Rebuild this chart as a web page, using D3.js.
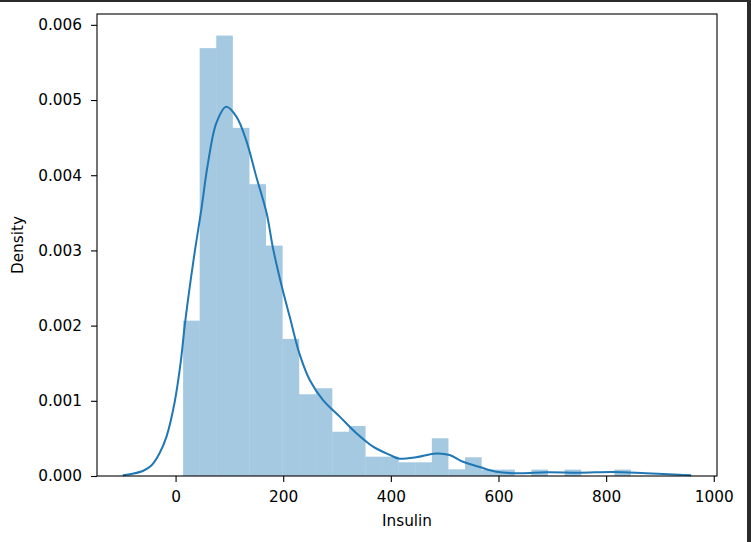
<!DOCTYPE html>
<html>
<head>
<meta charset="utf-8">
<script src="https://cdn.jsdelivr.net/npm/d3@7"></script>
<style>
  body { margin: 0; background: #fff; }
  svg { display: block; }
  text { font-family: "DejaVu Sans", sans-serif; fill: #000; }
</style>
</head>
<body>
<div id="chart"></div>
<script>
// Histogram of Insulin (density)
var binEdges = [14.0, 44.8, 75.6, 106.4, 137.3, 168.1, 198.9, 229.7, 260.5, 291.3,
  322.1, 353.0, 383.8, 414.6, 445.4, 476.2, 507.0, 537.9, 568.7, 599.5,
  630.3, 661.1, 691.9, 722.7, 753.6, 784.4, 815.2, 846.0];
var binDensity = [0.002066, 0.005690, 0.005857, 0.004630, 0.003881, 0.003064, 0.001823,
  0.001087, 0.001167, 0.000589, 0.000665, 0.000257, 0.000257, 0.000182, 0.000182,
  0.000502, 0.000089, 0.000249, 0.000085, 0.000085, 0, 0.000085, 0, 0.000085, 0, 0, 0.000085];

// KDE curve, points
var kdeX = [-98, -80, -60, -45, -30, -17, -2, 10, 17, 26, 36, 48, 60, 76, 94, 113, 131, 150,
  169, 181, 196, 212, 230, 249, 274, 305, 336, 367, 398, 416, 447, 484, 509, 534, 565,
  596, 639, 689, 751, 812, 874, 936, 958];
var kdeY = [0.00001, 0.00003, 0.00007, 0.00014, 0.00030, 0.00052, 0.00097, 0.00154, 0.00200,
  0.00250, 0.00300, 0.00355, 0.00415, 0.00470, 0.00491, 0.00478, 0.00447, 0.00398,
  0.00350, 0.00303, 0.00256, 0.00212, 0.00163, 0.00128, 0.00101, 0.00079, 0.00057,
  0.00039, 0.00028, 0.00023, 0.00025, 0.00030, 0.00028, 0.00019, 0.00012, 0.000057,
  0.000036, 0.000049, 0.000044, 0.000053, 0.000036, 0.000017, 0.00001];

var xTicks = [0, 200, 400, 600, 800, 1000];
var yTicks = [0, 0.001, 0.002, 0.003, 0.004, 0.005, 0.006];

var svgWidth = 751;
var svgHeight = 542;
var margin = { top: 14, right: 34, bottom: 66, left: 97 };
var width = svgWidth - margin.left - margin.right;
var height = svgHeight - margin.top - margin.bottom;
var fontSize = "15.3px";

var svg = d3.select("#chart")
  .append("svg")
  .attr("width", svgWidth)
  .attr("height", svgHeight);

var chartGroup = svg.append("g")
  .attr("transform", `translate(${margin.left}, ${margin.top})`);

var xScale = d3.scaleLinear()
  .domain([-146, 1006])
  .range([0, width]);

var yScale = d3.scaleLinear()
  .domain([0, 0.006144])
  .range([height, 0]);

// bars
var bins = binDensity.map(function(d, i) {
  return { x0: binEdges[i], x1: binEdges[i + 1], y: d };
});

chartGroup.selectAll("rect.bar")
  .data(bins)
  .enter()
  .append("rect")
  .attr("class", "bar")
  .attr("x", d => xScale(d.x0))
  .attr("width", d => xScale(d.x1) - xScale(d.x0))
  .attr("y", d => yScale(d.y))
  .attr("height", d => yScale(0) - yScale(d.y))
  .attr("fill", "#1f77b4")
  .attr("fill-opacity", 0.4);

// kde line
var line = d3.line()
  .x(d => xScale(d[0]))
  .y(d => yScale(d[1]))
  .curve(d3.curveCatmullRom);

chartGroup.append("path")
  .datum(kdeX.map((x, i) => [x, kdeY[i]]))
  .attr("d", line)
  .attr("fill", "none")
  .attr("stroke", "#1f77b4")
  .attr("stroke-width", 2);

// axes
var bottomAxis = d3.axisBottom(xScale)
  .tickValues(xTicks)
  .tickSize(6)
  .tickPadding(9)
  .tickFormat(d3.format("d"));

var leftAxis = d3.axisLeft(yScale)
  .tickValues(yTicks)
  .tickSize(6)
  .tickPadding(9)
  .tickFormat(d3.format(".3f"));

var xAxisG = chartGroup.append("g")
  .attr("transform", `translate(0, ${height})`)
  .call(bottomAxis);

var yAxisG = chartGroup.append("g")
  .call(leftAxis);

[xAxisG, yAxisG].forEach(function(g) {
  g.select(".domain").remove();
  g.selectAll("line").attr("stroke", "#000").attr("stroke-width", 1.1);
  g.selectAll("text").style("font-size", fontSize).attr("fill", "#000");
});

// frame
chartGroup.append("rect")
  .attr("x", 0)
  .attr("y", 0)
  .attr("width", width)
  .attr("height", height)
  .attr("fill", "none")
  .attr("stroke", "#000")
  .attr("stroke-width", 1.1);

// axis labels
chartGroup.append("text")
  .attr("x", width / 2)
  .attr("y", height + 50)
  .attr("text-anchor", "middle")
  .style("font-size", fontSize)
  .text("Insulin");

chartGroup.append("text")
  .attr("transform", "rotate(-90)")
  .attr("x", -height / 2)
  .attr("y", -74.5)
  .attr("text-anchor", "middle")
  .style("font-size", fontSize)
  .text("Density");

// dark screenshot edges
svg.append("rect")
  .attr("x", 0).attr("y", 0)
  .attr("width", svgWidth).attr("height", 2)
  .attr("fill", "#2b2b2b");
svg.append("rect")
  .attr("x", 747).attr("y", 0)
  .attr("width", 4).attr("height", svgHeight)
  .attr("fill", "#2b2b2b");
</script>
</body>
</html>
